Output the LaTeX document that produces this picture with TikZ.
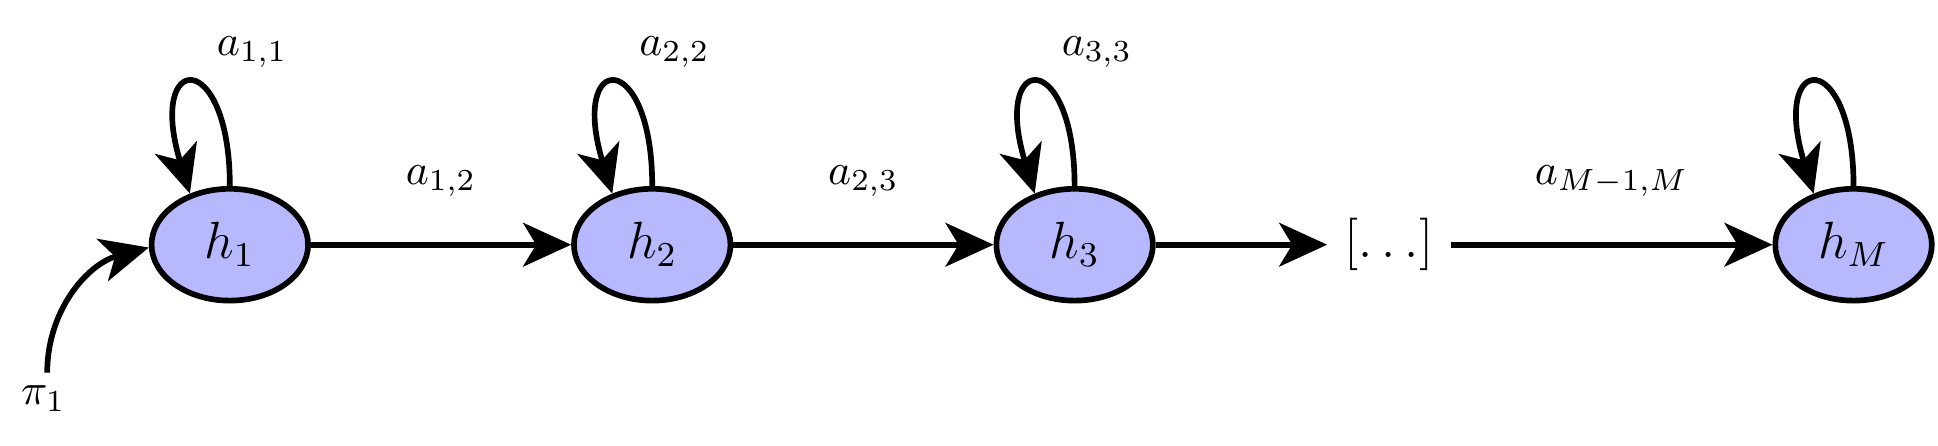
\documentclass[tikz,border=0pt]{standalone}
\usepackage{tikz}
\usetikzlibrary{arrows.meta,shapes.geometric}
\usepackage{amsmath}
\usepackage{amsfonts}
\begin{document}
\begin{tikzpicture}[line width=1.3pt,
    state/.style={ellipse,draw,fill=blue!28,minimum width=1.26cm,minimum height=0.9cm,inner sep=0pt,font=\large},
    >={Stealth[length=11pt,width=10pt,inset=3pt]}]

    \useasboundingbox (0,0) rectangle (15.6,3.59);
    \node[state] (H1) at (1.85,1.62) {$h_1$};
    \node[state] (H2) at (5.25,1.62) {$h_2$};
    \node[state] (H3) at (8.65,1.62) {$h_3$};
    \node[state] (HM) at (14.92,1.62) {$h_M$};
    \node[font=\large] (D) at (11.18,1.62) {$[\ldots]$};
    \coordinate (P) at (0.38,0.59);
    \node (PI) at (0.35,0.38) {$\pi_1$};
    \draw[->] (H1) -- node[above=7pt] {$a_{1,2}$} (H2);
    \draw[->] (H2) -- node[above=7pt] {$a_{2,3}$} (H3);
    \draw[->] (H3) -- (D.west);
    \draw[->] (D.east) -- node[above=7pt] {$a_{M-1,M}$} (HM);
    \draw[->] (P) to [out=90,in=195] (H1.182);
    \draw[->] (H1.north) .. controls +(0,1.12) and +(-0.35,1.15) .. (H1.128);
    \draw[->] (H2.north) .. controls +(0,1.12) and +(-0.35,1.15) .. (H2.128);
    \draw[->] (H3.north) .. controls +(0,1.12) and +(-0.35,1.15) .. (H3.128);
    \draw[->] (HM.north) .. controls +(0,1.12) and +(-0.35,1.15) .. (HM.128);
    \node at (2.03,3.17) {$a_{1,1}$};
    \node at (5.43,3.17) {$a_{2,2}$};
    \node at (8.83,3.17) {$a_{3,3}$};
        \end{tikzpicture}
\end{document}
